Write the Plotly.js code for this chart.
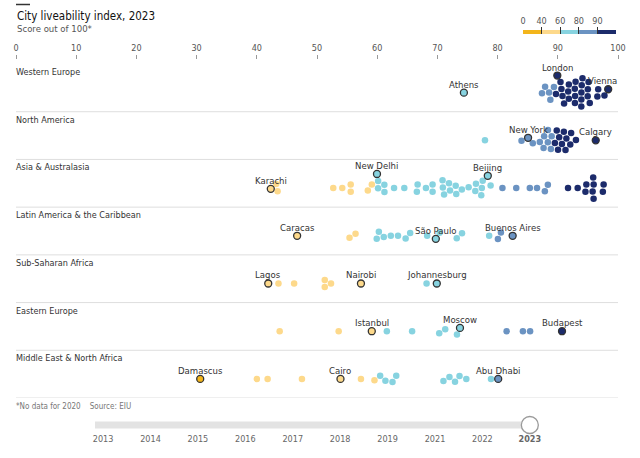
<!DOCTYPE html>
<html>
<head>
<meta charset="utf-8">
<script src="https://cdn.plot.ly/plotly-3.0.1.min.js"></script>
<style>html,body{margin:0;padding:0;background:#fff;}#chart{width:640px;height:458px;}</style>
</head>
<body>
<div id="chart"></div>
<script>
// ---------------- DATA ----------------
const regions = ["Western Europe", "North America", "Asia & Australasia", "Latin America & the Caribbean",
  "Sub-Saharan Africa", "Eastern Europe", "Middle East & North Africa"];

const westernEurope = [87.4, 88.0, 88.7, 88.8, 89.3, 90.1, 90.5, 90.5, 90.9, 91.0, 91.6, 92.1, 92.3, 92.6, 92.7,
  92.7, 93.2, 93.6, 93.6, 93.8, 94.2, 94.2, 94.6, 94.8, 94.9, 95.2, 96.7, 96.7, 97.7];
const northAmerica = [77.9, 84.0, 85.9, 87.0, 87.9, 88.0, 88.3, 88.3, 88.7, 88.7, 90.0, 90.0, 90.1, 90.1, 90.9,
  90.9, 91.0, 91.2, 92.0, 92.0, 93.0];
const asiaAustralasia = [43.2, 43.4, 52.7, 54.2, 55.6, 55.6, 58.5, 59.4, 60.0, 60.1, 61.0, 61.2, 62.8, 64.5, 66.6,
  66.7, 68.1, 69.2, 69.2, 71.0, 71.1, 71.1, 71.8, 72.4, 72.9, 72.9, 74.0, 75.1, 76.4, 76.4, 77.3, 77.5, 77.5, 78.8,
  80.8, 83.1, 85.4, 86.5, 87.9, 88.3, 91.7, 93.3, 94.7, 94.8, 95.8, 95.8, 95.9, 95.9, 97.5, 97.6];
const latinAmerica = [55.5, 56.3, 60.0, 60.3, 61.0, 62.3, 63.4, 64.8, 65.4, 68.3, 70.3, 73.3, 74.0, 78.6, 80.1, 80.5];
const subSaharanAfrica = [43.6, 46.2, 51.3, 51.3, 52.3, 68.2];
const easternEurope = [43.8, 53.6, 61.6, 65.8, 70.4, 71.2, 73.3, 81.5, 84.3, 85.3];
const middleEastNorthAfrica = [40.0, 41.8, 47.5, 57.3, 59.6, 60.5, 61.3, 62.6, 63.1, 71.1, 71.9, 73.0, 73.6, 74.8, 78.9];

const regionScores = [westernEurope, northAmerica, asiaAustralasia, latinAmerica, subSaharanAfrica, easternEurope, middleEastNorthAfrica];

const highlightCities = ["Athens", "London", "Vienna", "New York", "Calgary", "Karachi", "New Delhi", "Beijing",
  "Caracas", "São Paulo", "Buenos Aires", "Lagos", "Nairobi", "Johannesburg", "Istanbul", "Moscow", "Budapest",
  "Damascus", "Cairo", "Abu Dhabi"];
const highlightScores = [74.4, 90.2, 98.3, 85.1, 96.3, 42.4, 60.0, 78.2, 46.7, 69.8, 82.5, 41.9, 57.3, 69.9, 59.1,
  73.7, 90.7, 30.6, 53.9, 80.1];
const highlightRegion = [0, 0, 0, 1, 1, 2, 2, 2, 3, 3, 3, 4, 4, 4, 5, 5, 5, 6, 6, 6];

const legendBreaks = ["0", "40", "60", "80", "90"];
const legendColors = ["#f3b51b", "#fdd98b", "#87d3e0", "#6b93c2", "#1c2b6b"];
const years = ["2013", "2014", "2015", "2016", "2017", "2018", "2019", "2021", "2022", "2023"];

// ---------------- HELPERS ----------------
const W = 640, H = 458;
const FONT = "'Liberation Sans Narrow', 'DejaVu Sans Condensed', Lato, sans-serif";
const px = v => v / W;
const py = v => 1 - v / H;
function colorFor(s) {
  if (s < 40) return legendColors[0];
  if (s < 60) return legendColors[1];
  if (s < 80) return legendColors[2];
  if (s < 90) return legendColors[3];
  return legendColors[4];
}
const X0 = 16, X1 = 618;
const pxPerScore = (X1 - X0) / 100;
const Y_TOP = 60, Y_BOT = 398;
const Y_RANGE = [7, -0.084];
const pxPerRow = (Y_BOT - Y_TOP) / (Y_RANGE[0] - Y_RANGE[1]);
const DOT_OFFSET = 0.6;
const GAP = 7.2;

// beeswarm: dodge start + relaxation (x pulled strongly to value, y weakly to centre, collisions resolved).
// Labelled points inside a dense cluster are then lifted onto the top of the cluster so their labels stay legible.
function swarm(scores, labelled, D) {
  const n = scores.length;
  const tx = scores.map(s => s * pxPerScore);
  const order = tx.map((x, i) => i).sort((a, b) => tx[a] - tx[b]);
  const placed = [], y = new Array(n);
  for (const i of order) {
    const x = tx[i];
    const cands = [0];
    for (const p of placed) {
      const dx = Math.abs(x - p.x);
      if (dx < D) { const h = Math.sqrt(D * D - dx * dx); cands.push(p.y + h, p.y - h); }
    }
    cands.sort((a, b) => Math.abs(a) - Math.abs(b) || a - b);
    for (const c of cands) {
      if (placed.every(p => (x - p.x) ** 2 + (c - p.y) ** 2 >= D * D - 1e-6)) { y[i] = c; break; }
    }
    placed.push({x: x, y: y[i]});
  }
  const x = tx.slice();
  for (let it = 0; it < 400; it++) {
    for (let i = 0; i < n; i++) { x[i] += (tx[i] - x[i]) * 0.25; y[i] += -y[i] * 0.05; }
    for (let rep = 0; rep < 3; rep++) {
      for (let i = 0; i < n; i++) for (let j = i + 1; j < n; j++) {
        let dx = x[j] - x[i], dy = y[j] - y[i];
        let d = Math.sqrt(dx * dx + dy * dy);
        if (d < D) {
          if (d < 1e-6) { dx = 0.3; dy = 1; d = Math.sqrt(1.09); }
          const m = (D - d) / d * 0.5;
          x[i] -= dx * m; y[i] -= dy * m; x[j] += dx * m; y[j] += dy * m;
        }
      }
    }
  }
  for (let i = 0; i < n; i++) {
    if (!labelled[i]) continue;
    const near = [];
    for (let j = 0; j < n; j++) if (j !== i && Math.abs(x[j] - x[i]) < D) near.push(j);
    if (near.length < 3) continue;
    const cands = near.map(j => y[j] - Math.sqrt(D * D - (x[j] - x[i]) ** 2));
    const ok = cands.filter(c => near.every(j => (x[j] - x[i]) ** 2 + (y[j] - c) ** 2 >= D * D - 1e-6));
    if (ok.length) { const c = Math.min(...ok); if (c < y[i]) y[i] = c; }
  }
  return {x: x.map(v => v / pxPerScore), y: y};
}

const normX = [], normY = [], normC = [];
const hiX = [], hiY = [], hiC = [], hiT = [];
regions.forEach((r, ri) => {
  const pts = regionScores[ri].map(s => ({s: s, hi: -1}));
  highlightCities.forEach((c, ci) => { if (highlightRegion[ci] === ri) pts.push({s: highlightScores[ci], hi: ci}); });
  const sw = swarm(pts.map(p => p.s), pts.map(p => p.hi >= 0), GAP);
  pts.forEach((p, k) => {
    const yy = ri + DOT_OFFSET + sw.y[k] / pxPerRow;
    if (p.hi < 0) { normX.push(sw.x[k]); normY.push(yy); normC.push(colorFor(p.s)); }
    else { hiX.push(sw.x[k]); hiY.push(yy); hiC.push(colorFor(p.s)); hiT.push(highlightCities[p.hi]); }
  });
});

const traces = [
  {type: 'scatter', mode: 'markers', x: normX, y: normY, xaxis: 'x', yaxis: 'y', hoverinfo: 'skip', cliponaxis: false,
   marker: {size: 6.5, color: normC, line: {width: 0}}},
  {type: 'scatter', mode: 'markers', x: hiX, y: hiY, xaxis: 'x', yaxis: 'y', text: hiT, hoverinfo: 'text', cliponaxis: false,
   marker: {size: 7, color: hiC, line: {width: 1.3, color: '#333'}}},
  {type: 'bar', x: legendBreaks.map((b, i) => i + 0.5), y: legendBreaks.map(() => 1), width: 1,
   marker: {color: legendColors, line: {width: 0}}, xaxis: 'x3', yaxis: 'y3', hoverinfo: 'skip'},
  {type: 'scatter', mode: 'markers', x: [years.length - 1], y: [0], xaxis: 'x4', yaxis: 'y4', hoverinfo: 'skip',
   cliponaxis: false, marker: {size: 17, color: '#fff', line: {width: 1.3, color: '#9a9a9a'}}}
];

const annotations = [];
annotations.push({xref: 'paper', yref: 'paper', x: px(15), y: py(16), xanchor: 'left', yanchor: 'middle', showarrow: false,
  text: 'City liveability index, 2023', font: {family: FONT, size: 11.5, color: '#111'}});
annotations.push({xref: 'paper', yref: 'paper', x: px(15), y: py(29), xanchor: 'left', yanchor: 'middle', showarrow: false,
  text: 'Score out of 100*', font: {family: FONT, size: 9.5, color: '#555'}});
regions.forEach((r, ri) => annotations.push({xref: 'paper', yref: 'y', x: px(14), y: ri + 8 / pxPerRow,
  xanchor: 'left', yanchor: 'middle', showarrow: false, text: r, font: {family: FONT, size: 9, color: '#333'}}));
hiT.forEach((t, i) => annotations.push({xref: 'x', yref: 'y', x: hiX[i], y: hiY[i], xanchor: 'center', yanchor: 'bottom',
  yshift: 1, xshift: t === 'Vienna' ? -6 : 0, showarrow: false, text: t, font: {family: FONT, size: 9.5, color: '#333'}}));
annotations.push({xref: 'paper', yref: 'paper', x: px(14), y: py(406), xanchor: 'left', yanchor: 'middle', showarrow: false,
  text: '*No data for 2020&nbsp;&nbsp;&nbsp;&nbsp;Source: EIU', font: {family: FONT, size: 8, color: '#777'}});

const shapes = [];
shapes.push({type: 'line', xref: 'paper', yref: 'paper', x0: px(16), x1: px(30), y0: py(4.5), y1: py(4.5),
  line: {color: '#333', width: 1.5}});
regions.forEach((r, ri) => shapes.push({type: 'line', xref: 'paper', yref: 'y', x0: px(X0), x1: px(X1),
  y0: ri + 1, y1: ri + 1, line: {color: '#dedede', width: 1}}));
shapes.push({type: 'rect', xref: 'x4', yref: 'y4', x0: -0.17, x1: years.length - 1, y0: -0.5, y1: 0.5,
  fillcolor: '#e3e3e3', line: {width: 0}, layer: 'below'});

const layout = {
  width: W, height: H, margin: {l: 0, r: 0, t: 0, b: 0}, paper_bgcolor: '#fff', plot_bgcolor: 'rgba(0,0,0,0)',
  showlegend: false, font: {family: FONT},
  xaxis: {domain: [px(X0), px(X1)], range: [0, 100], side: 'top', anchor: 'y', tickvals: [0,10,20,30,40,50,60,70,80,90,100],
    ticks: 'outside', ticklen: 4, tickcolor: '#999', tickwidth: 1, showgrid: false, zeroline: false, showline: false,
    tickfont: {family: FONT, size: 9, color: '#555'}, fixedrange: true},
  yaxis: {domain: [py(Y_BOT), py(Y_TOP)], range: Y_RANGE, visible: false, fixedrange: true},
  xaxis3: {domain: [px(523), px(616)], range: [0, 5], anchor: 'y3', side: 'top', tickvals: legendBreaks.map((b, i) => i),
    ticktext: legendBreaks, ticks: 'inside', ticklen: 7, tickcolor: '#333', tickwidth: 1, showgrid: false, zeroline: false,
    showline: false, tickfont: {family: FONT, size: 9, color: '#555'}, fixedrange: true},
  yaxis3: {domain: [py(34), py(27)], range: [0, 1.75], anchor: 'x3', visible: false, fixedrange: true},
  xaxis4: {domain: [px(95), px(545)], range: [-0.17, 9.32], anchor: 'y4', tickvals: years.map((y, i) => i),
    ticktext: years.map((y, i) => i === years.length - 1 ? '<b>' + y + '</b>' : y), ticks: '', showgrid: false,
    zeroline: false, showline: false, tickfont: {family: FONT, size: 9, color: '#666'}, fixedrange: true},
  yaxis4: {domain: [py(432), py(418)], range: [-1, 1], anchor: 'x4', visible: false, fixedrange: true},
  annotations: annotations, shapes: shapes, bargap: 0
};

Plotly.newPlot('chart', traces, layout, {displayModeBar: false, staticPlot: true});
</script>
</body>
</html>
